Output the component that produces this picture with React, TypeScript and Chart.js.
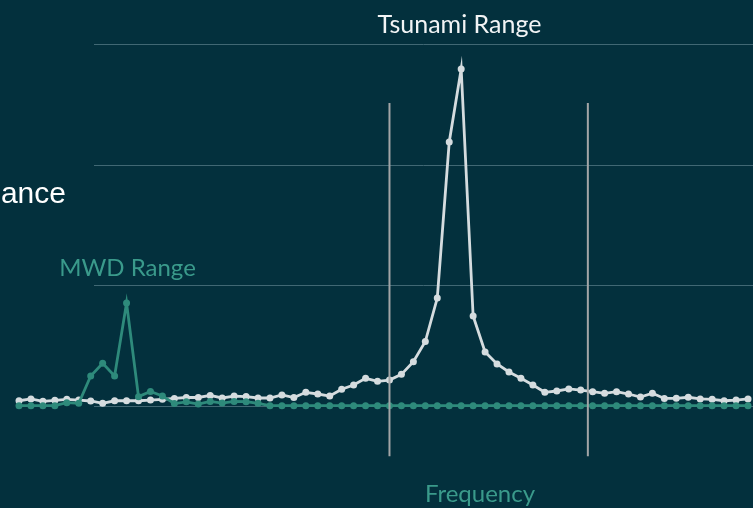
import React, { useEffect, useRef } from "react";
import { Chart, registerables } from "chart.js";

Chart.register(...registerables);

// Frequency bins (category positions); the last bin lies just past the visible edge
const frequencyBins: string[] = Array.from({ length: 63 }, (_, i) => String(i));

// Tsunami response (light series)
const tsunamiValues: number[] = [
  0.41, 0.56, 0.36, 0.45, 0.53, 0.47, 0.39, 0.2, 0.41, 0.41,
  0.41, 0.47, 0.53, 0.6, 0.68, 0.68, 0.85, 0.64, 0.8, 0.76,
  0.64, 0.64, 0.89, 0.68, 1.11, 0.97, 0.8, 1.36, 1.72, 2.27,
  2.02, 2.13, 2.6, 3.65, 5.32, 8.93, 21.87, 27.93, 7.44, 4.45,
  3.46, 2.8, 2.27, 1.72, 1.11, 1.22, 1.39, 1.3, 1.16, 1.03,
  1.16, 0.97, 0.72, 1.03, 0.6, 0.61, 0.7, 0.56, 0.53, 0.41,
  0.47, 0.56, 0.5,
];

// MWD response (teal series)
const mwdValues: number[] = [
  0, 0, 0, 0, 0.25, 0.2, 2.46, 3.52, 2.46, 8.52,
  0.75, 1.18, 0.8, 0.18, 0.32, 0.14, 0.35, 0.22, 0.35, 0.33,
  0.2, 0, 0, 0, 0, 0, 0, 0, 0, 0,
  0, 0, 0, 0, 0, 0, 0, 0, 0, 0,
  0, 0, 0, 0, 0, 0, 0, 0, 0, 0,
  0, 0, 0, 0, 0, 0, 0, 0, 0, 0,
  0, 0, 0,
];

// Horizontal guide values
const gridValues: number[] = [0, 10, 20, 30];

// Tsunami range markers (bin positions) and their vertical extent (value units)
const rangeMarkers: number[] = [31, 47.6];
const markerExtent: number[] = [-4.2, 25.1];

const BG = "#03303d";
const LIGHT = "#d5dcdf";
const TEAL = "#2e8a7b";
const TEAL_TEXT = "#3a9a8b";
const GRID = "#416874";
const MARKER = "#a3a5a6";

const guidesPlugin = {
  id: "guides",
  beforeDatasetsDraw(chart: any) {
    const { ctx } = chart;
    const y = chart.scales.y;
    ctx.save();
    ctx.strokeStyle = GRID;
    ctx.lineWidth = 1;
    for (const v of gridValues) {
      const py = Math.round(y.getPixelForValue(v)) + 0.5;
      ctx.beginPath();
      ctx.moveTo(94, py);
      ctx.lineTo(chart.width, py);
      ctx.stroke();
    }
    ctx.restore();
  },
  afterDatasetsDraw(chart: any) {
    const { ctx } = chart;
    const x = chart.scales.x;
    const y = chart.scales.y;
    ctx.save();
    ctx.strokeStyle = MARKER;
    ctx.lineWidth = 2;
    for (const m of rangeMarkers) {
      const px = x.getPixelForValue(m);
      ctx.beginPath();
      ctx.moveTo(px, y.getPixelForValue(markerExtent[0]));
      ctx.lineTo(px, y.getPixelForValue(markerExtent[1]));
      ctx.stroke();
    }
    ctx.restore();
  },
};

export default function App() {
  const canvasRef = useRef<HTMLCanvasElement | null>(null);

  useEffect(() => {
    document.body.style.margin = "0";
    document.body.style.overflow = "hidden";
    const canvas = canvasRef.current;
    if (!canvas) return;
    const chart = new Chart(canvas, {
      type: "line",
      data: {
        labels: frequencyBins,
        datasets: [
          {
            label: "MWD",
            data: mwdValues,
            borderColor: TEAL,
            backgroundColor: TEAL,
            pointBackgroundColor: TEAL,
            pointBorderColor: TEAL,
            borderWidth: 2.8,
            pointRadius: 3.5,
            pointBorderWidth: 0,
            tension: 0,
            clip: false as any,
          },
          {
            label: "Tsunami",
            data: tsunamiValues,
            borderColor: LIGHT,
            backgroundColor: LIGHT,
            pointBackgroundColor: LIGHT,
            pointBorderColor: LIGHT,
            borderWidth: 2.8,
            pointRadius: 3.5,
            pointBorderWidth: 0,
            tension: 0,
            clip: false as any,
          },
        ],
      },
      options: {
        responsive: false,
        animation: false,
        devicePixelRatio: 1,
        layout: { padding: { left: 19, right: 5, top: 44, bottom: 102.3 } },
        plugins: {
          legend: { display: false },
          tooltip: { enabled: false },
        },
        events: [],
        scales: {
          x: { type: "category", display: false, min: 0, max: 61 },
          y: { type: "linear", display: false, min: 0, max: 30 },
        },
      },
      plugins: [guidesPlugin],
    });
    return () => chart.destroy();
  }, []);

  const label = (extra: React.CSSProperties): React.CSSProperties => ({
    position: "absolute",
    whiteSpace: "nowrap",
    lineHeight: 1,
    ...extra,
  });

  return (
    <div style={{ position: "relative", width: 753, height: 508, background: BG, overflow: "hidden" }}>
      <canvas ref={canvasRef} width={753} height={508} style={{ position: "absolute", left: 0, top: 0, width: 753, height: 508 }} />
      <div style={label({ left: 459.5, top: 11, transform: "translateX(-50%)", fontFamily: "Lato", fontSize: 25, color: "#f2f4f5" })}>
        Tsunami Range
      </div>
      <div style={label({ left: 127.5, top: 255, transform: "translateX(-50%)", fontFamily: "Lato", fontSize: 24, color: TEAL_TEXT })}>
        MWD Range
      </div>
      <div style={label({ left: 480, top: 481, transform: "translateX(-50%)", fontFamily: "Lato", fontSize: 24, color: TEAL_TEXT })}>
        Frequency
      </div>
      <div style={label({ left: 66, top: 178, transform: "translateX(-100%)", fontFamily: "Liberation Sans", fontSize: 30, color: "#ffffff" })}>
        ance
      </div>
    </div>
  );
}
